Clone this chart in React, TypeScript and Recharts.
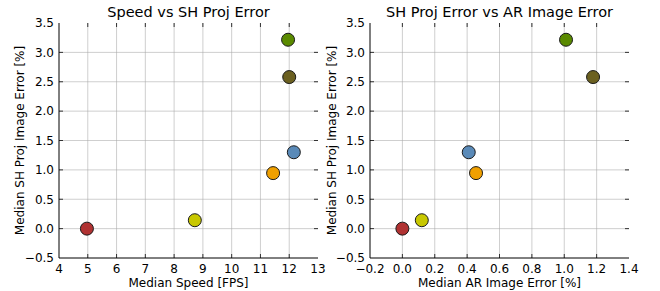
import React from 'react';
import { ScatterChart, Scatter, XAxis, YAxis, ReferenceLine, Label } from 'recharts';

const methods = ['A', 'B', 'C', 'D', 'E', 'F'];
const speedFps = [4.97, 8.72, 11.44, 12.16, 12.0, 11.96];
const shProjErr = [0.0, 0.143, 0.945, 1.3, 2.58, 3.215];
const arImgErr = [0.0, 0.12, 0.455, 0.41, 1.178, 1.011];
const pointColors = ['#b03232', '#c8c800', '#f0a000', '#5a8ab8', '#6b6020', '#5a8a00'];

const speedTicks = [4, 5, 6, 7, 8, 9, 10, 11, 12, 13];
const arTicks = [-0.2, 0, 0.2, 0.4, 0.6, 0.8, 1.0, 1.2, 1.4];
const errTicks = [-0.5, 0, 0.5, 1.0, 1.5, 2.0, 2.5, 3.0, 3.5];

const leftData = methods.map((m, i) => ({ name: m, x: speedFps[i], y: shProjErr[i], color: pointColors[i] }));
const rightData = methods.map((m, i) => ({ name: m, x: arImgErr[i], y: shProjErr[i], color: pointColors[i] }));

const FONT = 'DejaVu Sans, sans-serif';
const fmt1 = (v: number) => v.toFixed(1).replace('-', '\u2212');
const fmt0 = (v: number) => String(v).replace('-', '\u2212');
const TICK_PX = 4;

const Dot = (props: any) => {
  const { cx, cy, payload } = props;
  return <circle cx={cx} cy={cy} r={6.5} fill={payload.color} stroke="#1a1a1a" strokeWidth={1} />;
};

type PanelProps = {
  data: any[];
  xTicks: number[];
  xDomain: [number, number];
  xFmt: (v: number) => string;
  title: string;
  xLabel: string;
  width: number;
  yAxisWidth: number;
  right: number;
  yLabelX: number;
};

const Panel = ({ data, xTicks, xDomain, xFmt, title, xLabel, width, yAxisWidth, right, yLabelX }: PanelProps) => {
  const tickStyle = { fontSize: 12, fill: '#000', fontFamily: FONT };
  const yDomain: [number, number] = [-0.5, 3.5];
  const plotW = width - yAxisWidth - right;
  const plotH = 291 - 23 - 33;
  const dxTick = ((xDomain[1] - xDomain[0]) / plotW) * TICK_PX;
  const dyTick = ((yDomain[1] - yDomain[0]) / plotH) * TICK_PX;
  return (
    <ScatterChart width={width} height={291} margin={{ top: 23, right, bottom: 0, left: 0 }}>
      <XAxis
        type="number"
        dataKey="x"
        xAxisId="b"
        domain={xDomain}
        ticks={xTicks}
        tickFormatter={xFmt}
        allowDataOverflow
        height={33}
        tickLine={false}
        tickSize={0}
        tickMargin={6}
        axisLine={{ stroke: '#000', strokeWidth: 1 }}
        tick={tickStyle}
        interval={0}
      >
        <Label
          content={(p: any) => {
            const vb = p.viewBox;
            return (
              <text x={vb.x + vb.width / 2} y={286.5} textAnchor="middle" fontSize={12} fontFamily={FONT} fill="#000">
                {xLabel}
              </text>
            );
          }}
        />
      </XAxis>
      <XAxis xAxisId="t" orientation="top" type="number" dataKey="x" domain={xDomain} height={0} tick={false} tickLine={false} axisLine={{ stroke: '#000' }} allowDataOverflow />
      <YAxis
        type="number"
        dataKey="y"
        yAxisId="l"
        domain={yDomain}
        ticks={errTicks}
        tickFormatter={fmt1}
        allowDataOverflow
        width={yAxisWidth}
        tickLine={false}
        tickSize={0}
        tickMargin={5}
        axisLine={{ stroke: '#000', strokeWidth: 1 }}
        tick={tickStyle}
        interval={0}
      >
        <Label
          content={(p: any) => {
            const vb = p.viewBox;
            const cy = vb.y + vb.height / 2;
            return (
              <text x={yLabelX} y={cy} transform={`rotate(-90, ${yLabelX}, ${cy})`} textAnchor="middle" dominantBaseline="central" fontSize={12} fontFamily={FONT} fill="#000">
                Median SH Proj Image Error [%]
              </text>
            );
          }}
        />
      </YAxis>
      <YAxis yAxisId="r" orientation="right" type="number" dataKey="y" domain={yDomain} width={0} tick={false} tickLine={false} axisLine={{ stroke: '#000' }} allowDataOverflow />
      <Scatter data={data} xAxisId="b" yAxisId="l" shape={Dot} isAnimationActive={false} />
      {xTicks.slice(1, -1).map((t) => (
        <ReferenceLine key={'x' + t} x={t} xAxisId="b" yAxisId="l" stroke="#a8a8a8" strokeOpacity={0.55} strokeWidth={1} />
      ))}
      {errTicks.slice(1, -1).map((t) => (
        <ReferenceLine key={'y' + t} y={t} xAxisId="b" yAxisId="l" stroke="#a8a8a8" strokeOpacity={0.55} strokeWidth={1} />
      ))}
      {xTicks.slice(1, -1).map((t) => (
        <ReferenceLine key={'xb' + t} xAxisId="b" yAxisId="l" stroke="#333" strokeWidth={1}
          segment={[{ x: t, y: yDomain[0] }, { x: t, y: yDomain[0] + dyTick }]} />
      ))}
      {xTicks.slice(1, -1).map((t) => (
        <ReferenceLine key={'xt' + t} xAxisId="b" yAxisId="l" stroke="#333" strokeWidth={1}
          segment={[{ x: t, y: yDomain[1] }, { x: t, y: yDomain[1] - dyTick }]} />
      ))}
      {errTicks.slice(1, -1).map((t) => (
        <ReferenceLine key={'yl' + t} xAxisId="b" yAxisId="l" stroke="#333" strokeWidth={1}
          segment={[{ x: xDomain[0], y: t }, { x: xDomain[0] + dxTick, y: t }]} />
      ))}
      {errTicks.slice(1, -1).map((t) => (
        <ReferenceLine key={'yr' + t} xAxisId="b" yAxisId="l" stroke="#333" strokeWidth={1}
          segment={[{ x: xDomain[1], y: t }, { x: xDomain[1] - dxTick, y: t }]} />
      ))}
      <text x={yAxisWidth + plotW / 2} y={17} textAnchor="middle" fontSize={14.5} fontFamily={FONT} fill="#000">
        {title}
      </text>
    </ScatterChart>
  );
};

export default function App() {
  return (
    <div style={{ position: 'absolute', left: 0, top: 0, width: 660, height: 291, background: '#fff' }}>
      <div style={{ position: 'absolute', left: 0, top: 0 }}>
        <Panel
          data={leftData}
          xTicks={speedTicks}
          xDomain={[4, 13]}
          xFmt={fmt0}
          title="Speed vs SH Proj Error"
          xLabel="Median Speed [FPS]"
          width={330}
          yAxisWidth={59}
          right={12}
          yLabelX={20}
        />
      </div>
      <div style={{ position: 'absolute', left: 318, top: 0 }}>
        <Panel
          data={rightData}
          xTicks={arTicks}
          xDomain={[-0.2, 1.4]}
          xFmt={fmt1}
          title="SH Proj Error vs AR Image Error"
          xLabel="Median AR Image Error [%]"
          width={342}
          yAxisWidth={52}
          right={31}
          yLabelX={14}
        />
      </div>
    </div>
  );
}
